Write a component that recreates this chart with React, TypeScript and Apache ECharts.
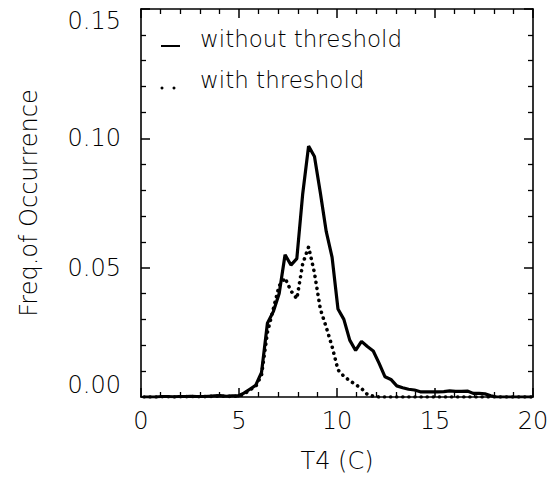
import React, { useEffect, useRef } from "react";
import * as echarts from "echarts";

const tempBins = [
  0.15, 0.45, 0.75, 1.05, 1.35, 1.65, 1.95, 2.25, 2.55, 2.85, 3.15, 3.45, 3.75, 4.05, 4.35, 4.65, 4.95,
  5.25, 5.55, 5.85, 6.15, 6.45, 6.75, 7.05, 7.35, 7.65, 7.95, 8.25, 8.55, 8.85, 9.15, 9.45, 9.75,
  10.05, 10.35, 10.65, 10.95, 11.25, 11.55, 11.85, 12.15, 12.45, 12.75, 13.05, 13.35, 13.65, 13.95,
  14.25, 14.55, 14.85, 15.15, 15.45, 15.75, 16.05, 16.35, 16.65, 16.95, 17.25, 17.55, 17.85, 18.15,
  18.45, 18.75, 19.05, 19.35, 19.65, 19.95,
];

const withoutThreshold = [
  0, 0, 0, 0.0002, 0.0002, 0.0001, 0.0002, 0.0002, 0.0003, 0.0002, 0.0002, 0.0003, 0.0004, 0.0005, 0.0003, 0.0004, 0.0004,
  0.0015, 0.003, 0.0045, 0.0095, 0.0285, 0.033, 0.04, 0.055, 0.051, 0.0535, 0.0785, 0.097, 0.093, 0.079, 0.064, 0.054,
  0.034, 0.03, 0.022, 0.018, 0.0215, 0.0195, 0.0178, 0.013, 0.0078, 0.0068, 0.0043, 0.0036, 0.003, 0.0027,
  0.002, 0.002, 0.002, 0.002, 0.0021, 0.0024, 0.0022, 0.0022, 0.0023, 0.0014, 0.0014, 0.0012, 0.0005, 0,
  0, 0, 0, 0, 0, 0,
];

const withThreshold = [
  0, 0, 0, 0.0001, 0.0001, 0, 0.0001, 0.0001, 0.0002, 0.0001, 0.0001, 0.0002, 0.0003, 0.0004, 0.0002, 0.0003, 0.0003,
  0.001, 0.0028, 0.004, 0.0085, 0.025, 0.034, 0.043, 0.046, 0.041, 0.038, 0.0515, 0.058, 0.048, 0.034, 0.027, 0.0195,
  0.0105, 0.008, 0.0063, 0.0048, 0.0033, 0.001, 0.0003, 0, 0, 0, 0, 0, 0, 0,
  0, 0, 0, 0, 0, 0, 0, 0, 0, 0, 0, 0, 0, 0,
  0, 0, 0, 0, 0, 0,
];

const xTickLabels = ["0", "5", "10", "15", "20"];
const yTickLabels = ["0.00", "0.05", "0.10", "0.15"];
const legendLabels = ["without threshold", "with threshold"];

const FONT = "DejaVu Sans";

const makeTick = () => ({ show: true, inside: true, length: 9, lineStyle: { color: "#000", width: 1.5 } });
const makeMinor = () => ({ show: true, splitNumber: 5, length: 5, lineStyle: { color: "#000", width: 1.3 } });
const makeLine = () => ({ show: true, onZero: false, lineStyle: { color: "#000", width: 1.6 } });
const makeFont = () => ({ fontFamily: FONT, fontWeight: 200, fontSize: 24, color: "#000" });

// axes of the frame grid (index 1): ticks, labels and names
const frameX = (position: string, withLabels: boolean) => ({
  type: "value",
  gridIndex: 1,
  min: 0,
  max: 20,
  interval: 5,
  position,
  splitLine: { show: false },
  axisLine: makeLine(),
  axisTick: makeTick(),
  minorTick: makeMinor(),
  ...(withLabels
    ? {
        name: "T4 (C)",
        nameLocation: "middle",
        nameGap: 52,
        nameTextStyle: makeFont(),
        axisLabel: {
          margin: 12,
          ...makeFont(),
          formatter: (v: number) => xTickLabels[Math.round(v / 5)] ?? String(v),
        },
      }
    : { axisLabel: { show: false } }),
});

const frameY = (position: string, withLabels: boolean) => ({
  type: "value",
  gridIndex: 1,
  min: 0,
  max: 0.15,
  interval: 0.05,
  position,
  splitLine: { show: false },
  axisLine: makeLine(),
  axisTick: makeTick(),
  minorTick: makeMinor(),
  ...(withLabels
    ? {
        name: "Freq.of Occurrence",
        nameLocation: "middle",
        nameRotate: 90,
        nameGap: 100,
        nameTextStyle: makeFont(),
        axisLabel: {
          margin: 20,
          ...makeFont(),
          verticalAlignMinLabel: "bottom",
          verticalAlignMaxLabel: "top",
          formatter: (v: number) => yTickLabels[Math.round(v / 0.05)] ?? v.toFixed(2),
        },
      }
    : { axisLabel: { show: false } }),
});

export default function App() {
  const ref = useRef<HTMLDivElement>(null);

  useEffect(() => {
    if (!ref.current) return;
    const chart = echarts.init(ref.current, null, { renderer: "svg" });

    const gridBox = { left: 141, top: 9, width: 392, height: 388, outerBoundsMode: "none" };

    chart.setOption({
      animation: false,
      backgroundColor: "#fff",
      grid: [{ ...gridBox }, { ...gridBox }],
      xAxis: [
        {
          type: "value",
          gridIndex: 0,
          min: 0,
          max: 20,
          show: false,
        },
        frameX("bottom", true),
        frameX("top", false),
      ],
      yAxis: [
        {
          type: "value",
          gridIndex: 0,
          min: 0,
          max: 0.15,
          show: false,
        },
        frameY("left", true),
        frameY("right", false),
      ],
      series: [
        {
          name: legendLabels[0],
          type: "line",
          xAxisIndex: 0,
          yAxisIndex: 0,
          data: tempBins.map((t, i) => [t, withoutThreshold[i]]),
          showSymbol: false,
          symbol: "none",
          lineStyle: { color: "#000", width: 3.2 },
          z: 3,
        },
        {
          name: legendLabels[1],
          type: "line",
          xAxisIndex: 0,
          yAxisIndex: 0,
          data: tempBins.map((t, i) => [t, withThreshold[i]]),
          showSymbol: false,
          symbol: "none",
          lineStyle: { color: "#000", width: 3.6, type: [0.1, 6], cap: "round" },
          z: 2,
        },
      ],
      graphic: [
        { type: "line", shape: { x1: 161, y1: 46, x2: 180, y2: 46 }, style: { stroke: "#000", lineWidth: 2 } },
        {
          type: "text",
          left: 200,
          top: 27,
          style: { text: legendLabels[0], fontFamily: FONT, fontWeight: 200, fontSize: 23, fill: "#000" },
        },
        { type: "circle", shape: { cx: 162, cy: 88, r: 1.5 }, style: { fill: "#000" } },
        { type: "circle", shape: { cx: 174, cy: 88, r: 1.5 }, style: { fill: "#000" } },
        {
          type: "text",
          left: 200,
          top: 68,
          style: { text: legendLabels[1], fontFamily: FONT, fontWeight: 200, fontSize: 23, fill: "#000" },
        },
      ],
    });

    return () => chart.dispose();
  }, []);

  return (
    <div
      ref={ref}
      style={{ position: "absolute", left: 0, top: 0, width: 555, height: 478, background: "#fff" }}
    />
  );
}
